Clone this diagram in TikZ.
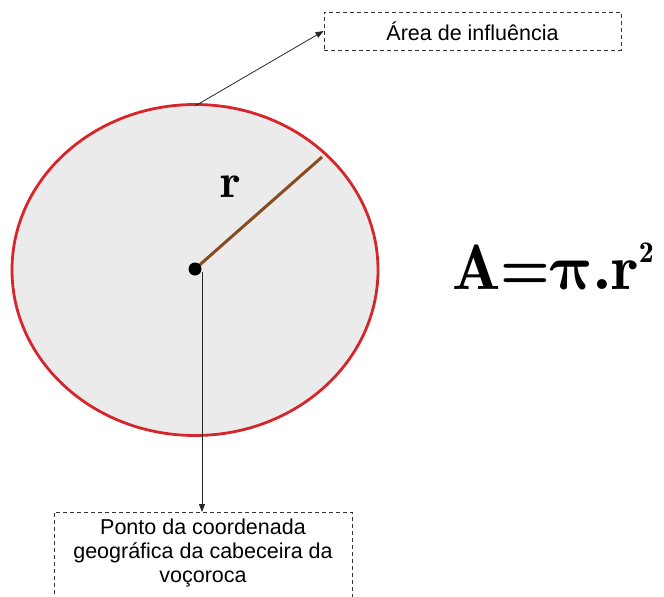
\documentclass[tikz,border=0pt]{standalone}
\usepackage{fontspec}
\setmainfont{Liberation Sans}
\newfontfamily\serifmath{Latin Modern Roman Demi}
\usepackage{unicode-math}
\setmathfont{Latin Modern Math}
\usetikzlibrary{arrows.meta,calc,shapes.geometric}
\definecolor{ringred}{HTML}{D7262B}
\definecolor{areagray}{HTML}{EBEBEB}
\definecolor{radbrown}{HTML}{8A4B20}
\tikzset{
  labelbox/.style={draw=black!80, dashed, dash pattern=on 4pt off 3pt, line width=0.8pt, font=\fontsize{21.5}{24}\selectfont, align=center, inner sep=0pt},
  pointer/.style={draw=black!85, line width=0.8pt, -{Triangle[length=8pt,width=6pt]}}
}
\begin{document}
\begin{tikzpicture}[x=1pt,y=-1pt]
\useasboundingbox (0,0) rectangle (664,597);
\clip (0,0) rectangle (664,597);
% area
\node[ellipse, draw=ringred, fill=areagray, line width=2.8pt, minimum width=366pt, minimum height=331pt, inner sep=0pt] (area) at (195,270) {};
\coordinate (rim) at (322,157);
\coordinate (center) at (195,269);
\coordinate (top) at (195,106);
\draw[radbrown, line width=3pt] (center) -- (rim);
\fill[black] (center) circle (6.5pt);
\node[font=\serifmath\fontsize{48}{48}\selectfont] (rlab) at (231,187) {r};
% formula
\node[font=\serifmath\fontsize{64}{64}\selectfont, anchor=base, inner sep=0pt] (formula) at (553,289) {A=$\symbfup{\pi}$.r\raisebox{27pt}{\fontsize{30}{30}\selectfont 2}};
% top box
\node[labelbox, minimum width=297pt, minimum height=38pt] (topbox) at (472.5,31) {Área de influência};
\draw[pointer] (top) -- (topbox.west);
% bottom box
\draw[labelbox] (54,650) -- (54,512) coordinate (bl) -- (352,512) coordinate (br) -- (352,650);
\coordinate (bottop) at (202,512);
\node[font=\fontsize{21.5}{24}\selectfont, align=center, anchor=north] (bottext) at (203,515) {Ponto da coordenada\\geográfica da cabeceira da\\voçoroca};
\draw[pointer] (202,272) -- (bottop);
\end{tikzpicture}
\end{document}
